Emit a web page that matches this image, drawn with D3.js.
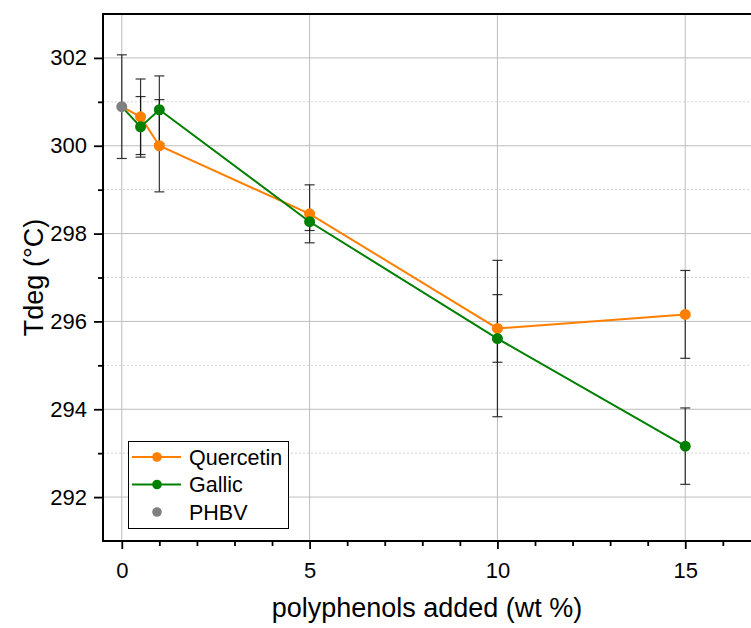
<!DOCTYPE html>
<html>
<head>
<meta charset="utf-8">
<script src="https://cdn.jsdelivr.net/npm/d3@7"></script>
<style>
  body { margin: 0; background: #fff; }
  svg { display: block; font-family: "Liberation Sans", Arial, sans-serif; }
</style>
</head>
<body>
<svg id="chart" width="751" height="628"></svg>
<script>
// data
const phbvX = 0
const phbvY = 300.89
const phbvErr = 1.18

const loadings = [0.5, 1, 5, 10, 15]
const quercetin = [300.66, 300.0, 298.45, 295.84, 296.16]
const quercetinErr = [0.86, 1.05, 0.66, 0.77, 1.0]
const gallic = [300.43, 300.82, 298.27, 295.61, 293.16]
const gallicErr = [0.69, 0.77, 0.2, 1.78, 0.87]

const xTicks = [0, 5, 10, 15]
const yTicks = [292, 294, 296, 298, 300, 302]

const plotL = 103, plotR = 751, plotT = 14, plotB = 541

const svg = d3.select('#chart')

const x = d3.scaleLinear().domain([-0.5, 16.75]).range([plotL, plotR])
const y = d3.scaleLinear().domain([291, 303]).range([plotB, plotT])

const series = [
  { name: 'Quercetin', color: '#ff7f00', vals: quercetin, err: quercetinErr },
  { name: 'Gallic', color: '#008000', vals: gallic, err: gallicErr }
]

// grid
const grid = svg.append('g')
grid.selectAll('.vg').data(xTicks).enter().append('line')
  .attr('x1', d => x(d)).attr('x2', d => x(d))
  .attr('y1', plotT).attr('y2', plotB)
  .attr('stroke', '#bdbdbd').attr('stroke-width', 1)
grid.selectAll('.hg').data(yTicks).enter().append('line')
  .attr('x1', plotL).attr('x2', plotR)
  .attr('y1', d => y(d)).attr('y2', d => y(d))
  .attr('stroke', '#bdbdbd').attr('stroke-width', 1)
grid.selectAll('.hm').data(d3.range(293, 303, 2)).enter().append('line')
  .attr('x1', plotL).attr('x2', plotR)
  .attr('y1', d => y(d)).attr('y2', d => y(d))
  .attr('stroke', '#d4d4d4').attr('stroke-width', 1)
  .attr('stroke-dasharray', '2,2')

// axes
const xAxis = d3.axisBottom(x).tickValues(xTicks).tickSize(8).tickPadding(13).tickFormat(d3.format('d'))
const xMinor = d3.axisBottom(x).tickValues(d3.range(0, 17, 1).filter(d => d % 5 !== 0)).tickSize(5).tickFormat('')
const yAxis = d3.axisLeft(y).tickValues(yTicks).tickSize(9).tickPadding(7).tickFormat(d3.format('d'))
const yMinor = d3.axisLeft(y).tickValues(d3.range(293, 303, 2)).tickSize(5).tickFormat('')

const styleAxis = g => {
  g.select('.domain').remove()
  g.selectAll('line').attr('stroke', '#000').attr('stroke-width', 1.8)
  g.selectAll('text').attr('font-size', 22).attr('fill', '#000')
    .attr('font-family', '"Liberation Sans", Arial, sans-serif')
}

svg.append('g').attr('transform', `translate(0,${plotB})`).call(xAxis).call(styleAxis)
svg.append('g').attr('transform', `translate(0,${plotB})`).call(xMinor).call(styleAxis)
svg.append('g').attr('transform', `translate(${plotL},0)`).call(yAxis).call(styleAxis)
svg.append('g').attr('transform', `translate(${plotL},0)`).call(yMinor).call(styleAxis)

// axis frame lines
svg.append('line').attr('x1', plotL).attr('x2', plotL).attr('y1', plotT - 1).attr('y2', plotB + 1)
  .attr('stroke', '#000').attr('stroke-width', 2)
svg.append('line').attr('x1', plotL - 1).attr('x2', plotR).attr('y1', plotB).attr('y2', plotB)
  .attr('stroke', '#000').attr('stroke-width', 2)
svg.append('line').attr('x1', plotL - 1).attr('x2', plotR).attr('y1', plotT).attr('y2', plotT)
  .attr('stroke', '#000').attr('stroke-width', 2)

// error bars
const drawErr = (xv, yv, e) => {
  const g = svg.append('g').attr('stroke', '#111').attr('stroke-width', 1.2).attr('opacity', 0.85)
  g.append('line').attr('x1', x(xv)).attr('x2', x(xv)).attr('y1', y(yv - e)).attr('y2', y(yv + e))
  g.append('line').attr('x1', x(xv) - 5).attr('x2', x(xv) + 5).attr('y1', y(yv - e)).attr('y2', y(yv - e))
  g.append('line').attr('x1', x(xv) - 5).attr('x2', x(xv) + 5).attr('y1', y(yv + e)).attr('y2', y(yv + e))
}
drawErr(phbvX, phbvY, phbvErr)
series.forEach(s => {
  loadings.forEach((l, i) => drawErr(l, s.vals[i], s.err[i]))
})

// lines + markers
const line = d3.line().x(d => x(d[0])).y(d => y(d[1]))
series.forEach(s => {
  const pts = [[phbvX, phbvY]].concat(loadings.map((l, i) => [l, s.vals[i]]))
  svg.append('path').datum(pts).attr('d', line)
    .attr('fill', 'none').attr('stroke', s.color).attr('stroke-width', 2)
})
series.forEach(s => {
  svg.append('g').selectAll('circle').data(loadings).enter().append('circle')
    .attr('cx', d => x(d)).attr('cy', (d, i) => y(s.vals[i])).attr('r', 5.5)
    .attr('fill', s.color)
})
svg.append('circle').attr('cx', x(phbvX)).attr('cy', y(phbvY)).attr('r', 5.5).attr('fill', '#808080')

// axis titles
svg.append('text').attr('x', (plotL + plotR) / 2).attr('y', 617)
  .attr('text-anchor', 'middle').attr('font-size', 27).text('polyphenols added (wt %)')
svg.append('text').attr('transform', `translate(43,${(plotT + plotB) / 2}) rotate(-90)`)
  .attr('text-anchor', 'middle').attr('font-size', 27).text('Tdeg (°C)')

// legend
const leg = svg.append('g')
leg.append('rect').attr('x', 128.5).attr('y', 441.5).attr('width', 160).attr('height', 87)
  .attr('fill', '#fff').attr('stroke', '#000').attr('stroke-width', 1)
const legItems = [
  { name: 'Quercetin', color: '#ff7f00', line: true },
  { name: 'Gallic', color: '#008000', line: true },
  { name: 'PHBV', color: '#808080', line: false }
]
legItems.forEach((it, i) => {
  const ly = 457 + i * 27.5
  if (it.line) {
    leg.append('line').attr('x1', 132).attr('x2', 181).attr('y1', ly).attr('y2', ly)
      .attr('stroke', it.color).attr('stroke-width', 2)
  }
  leg.append('circle').attr('cx', 157).attr('cy', ly).attr('r', 4.8).attr('fill', it.color)
  leg.append('text').attr('x', 189).attr('y', ly + 7.5).attr('font-size', 21.5).text(it.name)
})
</script>
</body>
</html>
